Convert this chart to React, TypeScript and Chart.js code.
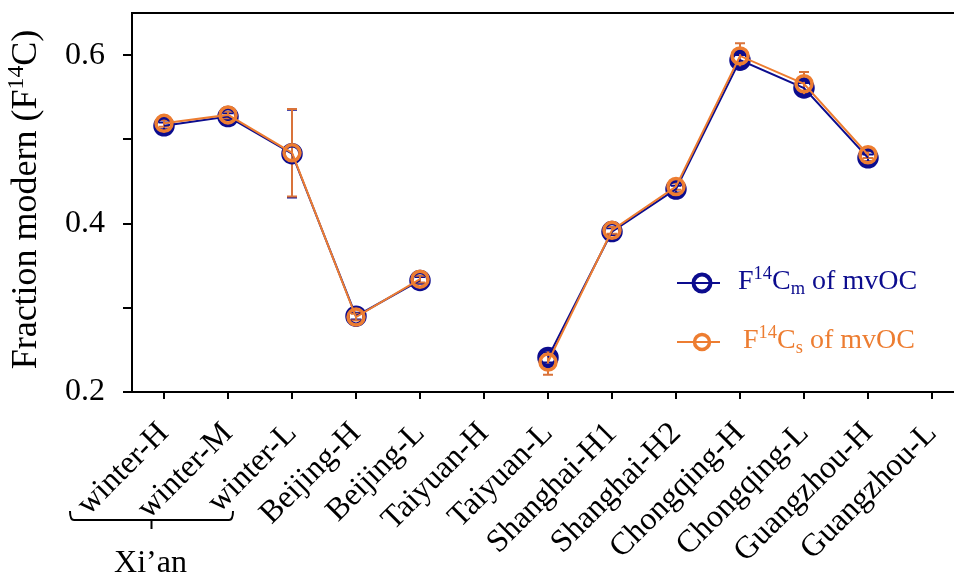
import React, { useEffect, useRef } from 'react';
import { Chart, registerables } from 'chart.js';

Chart.register(...registerables);

const categories = [
  'winter-H', 'winter-M', 'winter-L', 'Beijing-H', 'Beijing-L', 'Taiyuan-H', 'Taiyuan-L',
  'Shanghai-H1', 'Shanghai-H2', 'Chongqing-H', 'Chongqing-L', 'Guangzhou-H', 'Guangzhou-L',
];
const seriesM = [0.516, 0.527, 0.483, 0.29, 0.3325, null, 0.241, 0.3905, 0.441, 0.594, 0.561, 0.478, null];
const errorM = [0.004, 0.004, 0.052, 0.004, 0.004, null, 0.006, 0.004, 0.004, 0.006, 0.006, 0.004, null];
const seriesS = [0.519, 0.529, 0.484, 0.289, 0.334, null, 0.2355, 0.392, 0.444, 0.599, 0.566, 0.4817, null];
const errorS = [0.004, 0.004, 0.052, 0.004, 0.004, null, 0.015, 0.004, 0.004, 0.015, 0.014, 0.004, null];
const yTicks = [0.2, 0.3, 0.4, 0.5, 0.6];
const yTickLabels = ['0.2', '', '0.4', '', '0.6'];
const groupLabel = 'Xi\u2019an';
const groupStart = 0;
const groupEnd = 2;

const FONT = "'Liberation Serif', 'Times New Roman', serif";
const BLUE = '#0c0c8e';
const ORANGE = '#ed7d31';
const ORANGE_ERR = '#d9733a';

type Seg = { t: string; sup?: boolean; sub?: boolean };

const titleSegs: Seg[] = [{ t: 'Fraction modern (F' }, { t: '14', sup: true }, { t: 'C)' }];
const legendM: Seg[] = [{ t: 'F' }, { t: '14', sup: true }, { t: 'C' }, { t: 'm', sub: true }, { t: ' of mvOC' }];
const legendS: Seg[] = [{ t: 'F' }, { t: '14', sup: true }, { t: 'C' }, { t: 's', sub: true }, { t: ' of mvOC' }];

function drawSegs(ctx: CanvasRenderingContext2D, segs: Seg[], x: number, y: number, size: number, color: string, measureOnly = false) {
  let cx = x;
  for (const s of segs) {
    const sz = s.sup || s.sub ? size * 0.66 : size;
    ctx.font = `${sz}px ${FONT}`;
    const dy = s.sup ? -size * 0.36 : s.sub ? size * 0.18 : 0;
    if (!measureOnly) {
      ctx.fillStyle = color;
      ctx.fillText(s.t, cx, y + dy);
    }
    cx += ctx.measureText(s.t).width;
  }
  return cx - x;
}

const decorPlugin = {
  id: 'decor',
  beforeDatasetsDraw(chart: any) {
    const ctx = chart.ctx as CanvasRenderingContext2D;
    const xs = chart.scales.x;
    const ys = chart.scales.y;
    const sets = [
      { vals: seriesM, errs: errorM, color: BLUE },
      { vals: seriesS, errs: errorS, color: ORANGE_ERR },
    ];
    ctx.save();
    for (const s of sets) {
      ctx.strokeStyle = s.color;
      ctx.lineWidth = 2;
      s.vals.forEach((v, i) => {
        const e = s.errs[i];
        if (v == null || e == null) return;
        const px = xs.getPixelForValue(i);
        const top = ys.getPixelForValue(v + e);
        const bot = ys.getPixelForValue(v - e);
        ctx.beginPath();
        ctx.moveTo(px, top);
        ctx.lineTo(px, bot);
        ctx.moveTo(px - 5, top);
        ctx.lineTo(px + 5, top);
        ctx.moveTo(px - 5, bot);
        ctx.lineTo(px + 5, bot);
        ctx.stroke();
      });
    }
    ctx.restore();
  },
  afterDraw(chart: any) {
    const ctx = chart.ctx as CanvasRenderingContext2D;
    const area = chart.chartArea;
    const xs = chart.scales.x;
    ctx.save();
    // top frame line
    ctx.strokeStyle = '#000';
    ctx.lineWidth = 2;
    ctx.beginPath();
    ctx.moveTo(area.left - 1, area.top);
    ctx.lineTo(area.right, area.top);
    ctx.stroke();

    // y title
    const tsize = 36;
    ctx.textBaseline = 'alphabetic';
    ctx.textAlign = 'left';
    const tw = drawSegs(ctx, titleSegs, 0, 0, tsize, '#000', true);
    ctx.save();
    ctx.translate(36, (area.top + area.bottom) / 2 - 3);
    ctx.rotate(-Math.PI / 2);
    drawSegs(ctx, titleSegs, -tw / 2, 0, tsize, '#000');
    ctx.restore();

    // legend
    const lx = area.left + 545;
    const items = [
      { segs: legendM, color: BLUE, y: area.top + 270, r: 8.5, bw: 4, tx: 738 },
      { segs: legendS, color: ORANGE, y: area.top + 329, r: 7.5, bw: 3.5, tx: 743 },
    ];
    for (const it of items) {
      ctx.strokeStyle = it.color;
      ctx.lineWidth = 2;
      ctx.beginPath();
      ctx.moveTo(lx, it.y);
      ctx.lineTo(lx + 43, it.y);
      ctx.stroke();
      ctx.lineWidth = it.bw;
      ctx.beginPath();
      ctx.arc(lx + 25, it.y, it.r, 0, Math.PI * 2);
      ctx.stroke();
      drawSegs(ctx, it.segs, it.tx, it.y + 6, 28, it.color);
    }

    // Xi'an bracket
    const left = xs.getPixelForValue(groupStart) - 94;
    const right = xs.getPixelForValue(groupEnd) - 59;
    const mid = (left + right) / 2;
    const by = 520;
    ctx.strokeStyle = '#000';
    ctx.lineWidth = 2;
    ctx.beginPath();
    ctx.moveTo(left, by - 9);
    ctx.quadraticCurveTo(left, by, left + 4, by);
    ctx.lineTo(right - 4, by);
    ctx.quadraticCurveTo(right, by, right, by - 9);
    ctx.moveTo(mid, by);
    ctx.lineTo(mid, by + 9);
    ctx.stroke();
    ctx.fillStyle = '#000';
    ctx.font = `32px ${FONT}`;
    ctx.textAlign = 'center';
    ctx.fillText(groupLabel, mid - 1, 572);
    ctx.restore();
  },
};

export default function App() {
  const ref = useRef<HTMLCanvasElement | null>(null);
  useEffect(() => {
    if (!ref.current) return;
    const chart = new Chart(ref.current, {
      type: 'line',
      data: {
        labels: categories,
        datasets: [
          {
            label: 'F14Cm of mvOC',
            data: seriesM,
            borderColor: BLUE,
            borderWidth: 2,
            pointBorderColor: BLUE,
            pointBackgroundColor: 'rgba(0,0,0,0)',
            pointRadius: 8.5,
            pointBorderWidth: 4.5,
            spanGaps: false,
            tension: 0,
            order: 2,
          },
          {
            label: 'F14Cs of mvOC',
            data: seriesS,
            borderColor: ORANGE,
            borderWidth: 2,
            pointBorderColor: ORANGE,
            pointBackgroundColor: 'rgba(0,0,0,0)',
            pointRadius: 8,
            pointBorderWidth: 3.5,
            spanGaps: false,
            tension: 0,
            order: 1,
          },
        ],
      },
      options: {
        animation: false,
        responsive: false,
        devicePixelRatio: 1,
        layout: { padding: { top: 12, right: 16, left: 0, bottom: 0 } },
        plugins: { legend: { display: false }, tooltip: { enabled: false } },
        scales: {
          x: {
            type: 'category',
            offset: true,
            grid: { display: true, drawOnChartArea: false, drawTicks: true, tickLength: 7, color: '#000', lineWidth: 2 },
            border: { display: true, color: '#000', width: 2 },
            ticks: {
              color: '#000',
              font: { family: FONT, size: 32 },
              maxRotation: 45,
              minRotation: 45,
              autoSkip: false,
              padding: 16,
            },
            afterFit: (s: any) => {
              s.height = 185;
              s.paddingLeft = 0;
              s.paddingRight = 0;
            },
          },
          y: {
            min: 0.2,
            max: 0.65,
            afterBuildTicks: (s: any) => { s.ticks = yTicks.map((v) => ({ value: v })); },
            ticks: {
              color: '#000',
              font: { family: FONT, size: 32 },
              padding: 18,
              callback: (_v: any, i: number) => yTickLabels[i],
            },
            grid: { display: true, drawOnChartArea: false, drawTicks: true, tickLength: 9, color: '#000', lineWidth: 2 },
            border: { display: true, color: '#000', width: 2 },
            afterFit: (s: any) => {
              s.width = 132;
              s.paddingTop = 0;
              s.paddingBottom = 0;
            },
          },
        },
      },
      plugins: [decorPlugin],
    });
    return () => chart.destroy();
  }, []);
  return (
    <div style={{ position: 'absolute', left: 0, top: 0, width: 954, height: 577, overflow: 'hidden', background: '#fff' }}>
      <canvas ref={ref} width={980} height={577} style={{ width: 980, height: 577, display: 'block' }} />
    </div>
  );
}
